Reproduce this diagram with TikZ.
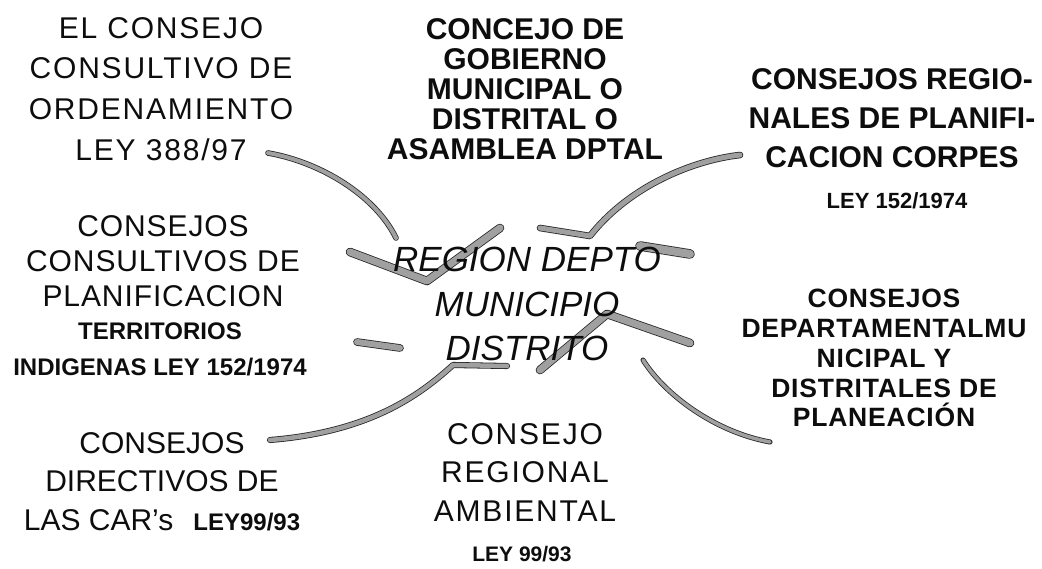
\documentclass[tikz,border=0pt]{standalone}
\usepackage{fontspec}
\setmainfont{Liberation Sans}
\usepackage{xcolor}
\usepackage{tikz}
\definecolor{bandGray}{HTML}{A0A0A0}
\definecolor{bandInk}{HTML}{262626}
\definecolor{txtInk}{HTML}{0D0D0D}
\newcommand{\wideletters}{\addfontfeature{LetterSpace=6}}
\newcommand{\someletters}{\addfontfeature{LetterSpace=3}}
\usetikzlibrary{calc}

\begin{document}
\begin{tikzpicture}[x=1pt, y=-1pt,
    lbl/.style={anchor=north, inner sep=0pt, align=center, text=txtInk},
    band/.style={draw=bandGray, line width=#1, line cap=round, line join=round,
      preaction={draw=bandInk, line width=#1+1.6pt, line cap=round, line join=round}},
    band/.default=5pt]
  \useasboundingbox (0,0) rectangle (1042,569);

  % bandas hacia el centro
  \coordinate (c1a) at (268,153);
  \coordinate (c1b) at (396,238);
  \coordinate (c2a) at (350,252);
  \coordinate (c2b) at (427,281);
  \coordinate (c2c) at (500,228);
  \coordinate (c3a) at (740,155);
  \coordinate (c3b) at (590,236);
  \coordinate (c3c) at (540,228);
  \coordinate (c4a) at (640,246);
  \coordinate (c4b) at (690,254);
  \coordinate (c5a) at (540,370);
  \coordinate (c5b) at (607,314);
  \coordinate (c5c) at (690,343);
  \coordinate (c6a) at (643,360);
  \coordinate (c6b) at (770,442);
  \coordinate (c7a) at (270,440);
  \coordinate (c7b) at (453,365);
  \coordinate (c7c) at (507,366);
  \coordinate (c8a) at (357,342);
  \coordinate (c8b) at (400,348);

  \draw[band=4pt] (c1a) .. controls (320,162) and (375,195) .. (c1b);
  \draw[band=7pt] (c2a) -- (c2b) -- (c2c);
  \draw[band=5pt] (c3a) .. controls (695,160) and (630,185) .. (c3b) -- (c3c);
  \draw[band=8pt] (c4a) -- (c4b);
  \draw[band=7pt] (c5a) -- (c5b) -- (c5c);
  \draw[band=3.5pt] (c6a) .. controls (665,395) and (715,432) .. (c6b);
  \draw[band=4.5pt] (c7a) .. controls (370,432) and (420,395) .. (c7b) -- (c7c);
  \draw[band=6pt] (c8a) -- (c8b);

  % textos
  \node[lbl, font={\fontsize{30}{40.7}\selectfont\wideletters}] (ordn) at (161,17)
    {EL CONSEJO\\CONSULTIVO DE\\ORDENAMIENTO\\LEY 388/97};
  \node[lbl, font={\fontsize{30}{30}\selectfont\bfseries}] (gob) at (525,18)
    {CONCEJO DE\\GOBIERNO\\MUNICIPAL O\\DISTRITAL O\\ASAMBLEA DPTAL};
  \node[lbl, font={\fontsize{30}{39}\selectfont\bfseries}] (corpes) at (892,68)
    {CONSEJOS REGIO-\\NALES DE PLANIFI-\\CACION CORPES};
  \node[lbl, font={\fontsize{22}{26}\selectfont\bfseries}] (ley1) at (897,192)
    {LEY 152/1974};
  \node[lbl, font={\fontsize{30}{35}\selectfont\someletters}] (plan) at (163,215)
    {CONSEJOS\\CONSULTIVOS DE\\PLANIFICACION};
  \node[lbl, font={\fontsize{24}{36}\selectfont\bfseries}] (indig) at (160,323)
    {TERRITORIOS\\INDIGENAS LEY 152/1974};
  \node[lbl, font={\fontsize{35}{44.5}\selectfont\itshape}] (centro) at (527,247)
    {REGION DEPTO\\MUNICIPIO\\DISTRITO};
  \node[lbl, font={\fontsize{26.5}{29.8}\selectfont\bfseries\someletters}] (dptal) at (884,289)
    {CONSEJOS\\DEPARTAMENTALMU\\NICIPAL Y\\DISTRITALES DE\\PLANEACIÓN};
  \node[lbl, font={\fontsize{30}{38.5}\selectfont}] (car) at (162,432)
    {CONSEJOS\\DIRECTIVOS DE\\LAS CAR's\hspace{20pt}{\fontsize{24}{38.5}\selectfont\bfseries LEY99/93}};
  \node[lbl, font={\fontsize{30}{38.5}\selectfont\wideletters}] (amb) at (525,423)
    {CONSEJO\\REGIONAL\\AMBIENTAL};
  \node[lbl, font={\fontsize{21}{26}\selectfont\bfseries}] (ley2) at (522,546)
    {LEY 99/93};
\end{tikzpicture}
\end{document}
